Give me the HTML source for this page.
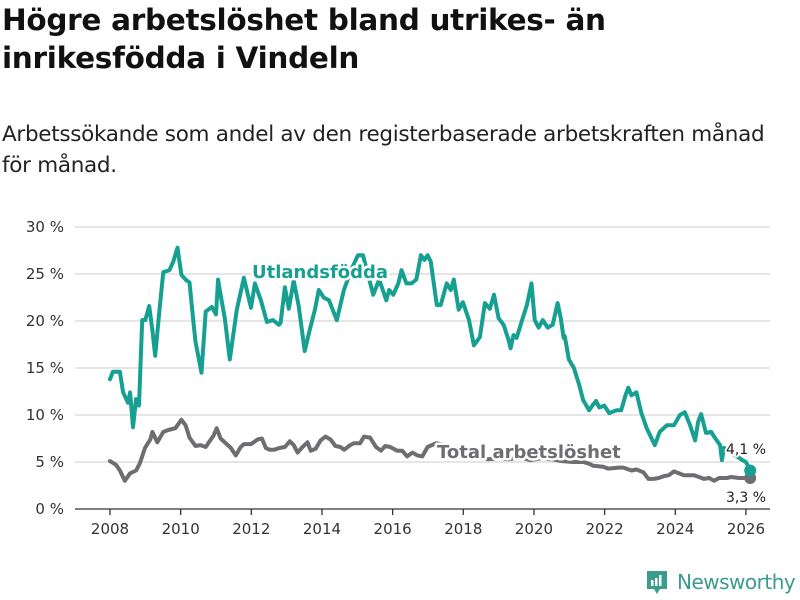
<!DOCTYPE html>
<html><head><meta charset="utf-8">
<style>
body{margin:0;width:800px;height:600px;background:#fff;font-family:"DejaVu Sans","Liberation Sans",sans-serif;overflow:hidden;position:relative}
h1{position:absolute;left:2px;top:1px;margin:0;font-size:29.5px;line-height:38px;font-weight:bold;color:#111;letter-spacing:-0.3px}
p.sub{position:absolute;left:2px;top:119px;margin:0;font-size:21.5px;line-height:31px;color:#222;letter-spacing:-0.3px}
svg{position:absolute;left:0;top:0}
</style></head><body>
<h1>Högre arbetslöshet bland utrikes- än<br>inrikesfödda i Vindeln</h1>
<p class="sub">Arbetssökande som andel av den registerbaserade arbetskraften månad<br>för månad.</p>
<svg id="chart" width="800" height="600"></svg>
<script>
const yTicks=[0,5,10,15,20,25,30];
const xTicks=[2008,2010,2012,2014,2016,2018,2020,2022,2024,2026];
const uYears=[2008.0,2008.08,2008.28,2008.37,2008.51,2008.57,2008.65,2008.74,2008.82,2008.91,2009.0,2009.11,2009.2,2009.28,2009.4,2009.51,2009.68,2009.79,2009.91,2010.02,2010.14,2010.25,2010.37,2010.42,2010.59,2010.71,2010.88,2011.0,2011.06,2011.11,2011.25,2011.39,2011.59,2011.79,2011.99,2012.1,2012.27,2012.44,2012.61,2012.78,2012.83,2012.95,2013.06,2013.2,2013.34,2013.51,2013.65,2013.8,2013.91,2014.05,2014.2,2014.42,2014.62,2014.82,2015.02,2015.16,2015.45,2015.62,2015.82,2015.9,2016.02,2016.16,2016.25,2016.39,2016.53,2016.67,2016.8,2016.9,2016.99,2017.08,2017.25,2017.36,2017.53,2017.65,2017.73,2017.87,2017.99,2018.16,2018.3,2018.47,2018.61,2018.75,2018.87,2019.0,2019.14,2019.28,2019.34,2019.42,2019.51,2019.68,2019.8,2019.93,2020.02,2020.13,2020.25,2020.39,2020.53,2020.67,2020.76,2020.84,2020.87,2020.99,2021.13,2021.28,2021.39,2021.56,2021.65,2021.76,2021.85,2021.99,2022.13,2022.33,2022.47,2022.59,2022.67,2022.76,2022.9,2023.04,2023.19,2023.42,2023.56,2023.76,2023.96,2024.13,2024.27,2024.42,2024.56,2024.65,2024.73,2024.87,2025.02,2025.1,2025.27,2025.32,2025.38,2025.9,2026.0,2026.12];
const uVals=[13.8,14.6,14.6,12.4,11.3,12.4,8.7,11.7,11.0,20.1,20.1,21.6,19.0,16.3,21.2,25.2,25.4,26.3,27.8,24.9,24.4,24.1,19.6,17.8,14.5,21.0,21.5,20.7,24.4,23.2,20.3,15.9,21.2,24.6,21.4,24.0,22.2,19.9,20.1,19.6,19.8,23.6,21.3,24.3,21.6,16.8,19.0,21.2,23.3,22.5,22.2,20.1,23.3,25.4,27.0,27.0,22.8,24.4,22.2,23.3,22.8,24.0,25.4,24.0,24.0,24.4,27.0,26.5,27.0,26.3,21.7,21.7,24.0,23.3,24.4,21.2,22.0,20.1,17.4,18.3,21.9,21.3,22.8,20.3,19.6,18.0,17.1,18.5,18.2,20.3,21.7,24.0,20.1,19.3,20.1,19.3,19.6,21.9,20.3,18.2,18.4,15.9,15.0,13.2,11.6,10.5,11.0,11.5,10.8,11.0,10.2,10.5,10.5,12.1,12.9,12.1,12.4,10.2,8.6,6.8,8.2,8.9,8.9,10.0,10.3,8.9,7.3,9.3,10.1,8.1,8.2,7.7,6.8,5.2,6.5,5.2,5.0,4.1];
const tYears=[2008.0,2008.17,2008.28,2008.42,2008.57,2008.74,2008.85,2008.99,2009.14,2009.2,2009.34,2009.51,2009.65,2009.85,2010.02,2010.14,2010.25,2010.42,2010.56,2010.71,2010.82,2010.93,2011.02,2011.13,2011.42,2011.56,2011.7,2011.79,2011.99,2012.18,2012.3,2012.41,2012.52,2012.64,2012.81,2012.95,2013.09,2013.2,2013.31,2013.45,2013.59,2013.68,2013.82,2013.96,2014.1,2014.24,2014.38,2014.52,2014.63,2014.8,2014.91,2015.08,2015.19,2015.36,2015.53,2015.67,2015.79,2015.93,2016.13,2016.27,2016.41,2016.56,2016.7,2016.84,2016.99,2017.23,2017.5,2017.8,2018.1,2018.4,2018.7,2019.0,2019.3,2019.6,2019.9,2020.2,2020.5,2020.8,2021.1,2021.4,2021.57,2021.68,2021.96,2022.1,2022.39,2022.53,2022.76,2022.9,2023.1,2023.24,2023.39,2023.53,2023.68,2023.82,2023.96,2024.1,2024.24,2024.39,2024.53,2024.67,2024.81,2024.96,2025.1,2025.24,2025.46,2025.58,2025.8,2026.12];
const tVals=[5.1,4.7,4.1,3.0,3.8,4.1,4.9,6.5,7.4,8.2,7.1,8.2,8.4,8.6,9.5,8.9,7.6,6.7,6.8,6.6,7.2,7.8,8.6,7.5,6.5,5.7,6.6,6.9,6.9,7.4,7.5,6.5,6.3,6.3,6.5,6.6,7.2,6.8,6.0,6.6,7.1,6.2,6.4,7.3,7.7,7.4,6.7,6.6,6.3,6.8,7.0,7.0,7.7,7.6,6.6,6.2,6.7,6.6,6.2,6.2,5.6,6.0,5.7,5.6,6.6,7.0,6.8,6.2,5.8,5.6,5.3,5.4,5.3,5.5,5.2,5.4,5.3,5.1,5.0,5.0,4.8,4.6,4.5,4.3,4.4,4.4,4.1,4.2,3.9,3.2,3.2,3.3,3.5,3.6,4.0,3.8,3.6,3.6,3.6,3.4,3.2,3.3,3.0,3.3,3.3,3.4,3.3,3.3];
const NS='http://www.w3.org/2000/svg';
const svg=document.getElementById('chart');
const X=v=>110+(v-2008)*35.33;
const Y=v=>509-v*9.4;
function mk(t,a,p){const e=document.createElementNS(NS,t);for(const k in a)e.setAttribute(k,a[k]);(p||svg).appendChild(e);return e;}
yTicks.forEach(v=>{
  const l=mk('line',{x1:75,x2:770,y1:Y(v),y2:Y(v),stroke:v===0?'#333':'#ddd','stroke-width':v===0?1.3:1.5});
  
  
  const t=mk('text',{x:64,y:Y(v)+5,'text-anchor':'end','font-size':15,fill:'#333'});
  t.textContent=v+' %';
  
  
});
xTicks.forEach(v=>{
  const l=mk('line',{x1:X(v),x2:X(v),y1:509,y2:515,stroke:'#333','stroke-width':1.3});
  
  
  const t=mk('text',{x:X(v),y:534,'text-anchor':'middle','font-size':15,fill:'#333'});
  t.textContent=v;
  
  
});
function line(xs,ys,c,name){
  const n=Math.min(xs.length,ys.length)-1;
  const d=xs.slice(0,n+1).map((x,i)=>(i?'L':'M')+X(x).toFixed(1)+','+Y(ys[i]).toFixed(1)).join('');
  const p=mk('path',{d:d,fill:'none',stroke:c,'stroke-width':4,'stroke-linejoin':'round','stroke-linecap':'round'});
  
  
  const c2=mk('circle',{cx:X(xs[n]),cy:Y(ys[n]),r:6,fill:c});
  
  
}
line(tYears,tVals,'#6e6d72','total-line');
line(uYears,uVals,'#16a092','utlandsfodda-line');
function lab(x,y,txt,c,name,bold,size,anchor){
  const t=mk('text',{x:x,y:y,'font-size':size,'font-weight':bold?'bold':'normal',fill:c,stroke:'#fff','stroke-width':bold?5:4,'paint-order':'stroke','stroke-linejoin':'round','text-anchor':anchor||'start'});
  t.textContent=txt;
  
  
}
lab(252,278,'Utlandsfödda','#16a092','utlandsfodda-label',true,18);
lab(437,458,'Total arbetslöshet','#6e6d72','total-label',true,18);
lab(746,454,'4,1 %','#222','utlandsfodda-last-value',false,14,'middle');
lab(746,502,'3,3 %','#222','total-last-value',false,14,'middle');
</script>
<div style="position:absolute;left:645px;top:569px;height:26px;display:flex;align-items:center">
<svg width="24" height="26" style="position:static"><path d="M2 2h20v18h-7l-3 5-3-5H2z" fill="#3a9b8f"/><rect x="6" y="11" width="2.5" height="6" fill="#fff"/><rect x="10" y="9" width="2.5" height="8" fill="#fff"/><rect x="14" y="6" width="2.5" height="11" fill="#fff"/></svg>
<span style="font-size:20px;color:#3a9b8f;margin-left:8px;font-family:'DejaVu Sans',sans-serif;letter-spacing:-0.5px">Newsworthy</span>
</div>
</body></html>
